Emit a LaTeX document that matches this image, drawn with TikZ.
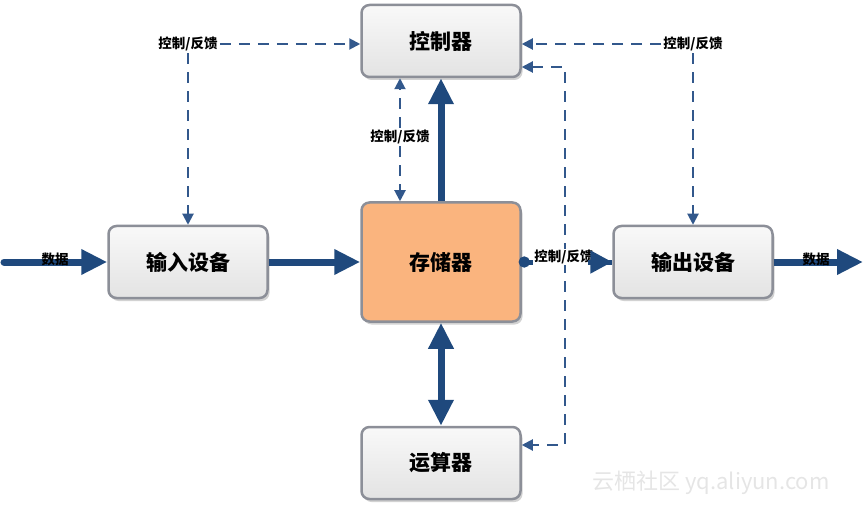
\documentclass[tikz,border=0pt]{standalone}
\usepackage{fontspec}
\newfontfamily\cjk{Noto Sans CJK SC}
\usetikzlibrary{arrows.meta, shadows}
\definecolor{flowblue}{RGB}{31,73,125}
\definecolor{dashblue}{RGB}{50,88,140}
\definecolor{boxgray}{RGB}{140,143,152}
\definecolor{memorange}{RGB}{250,180,126}
\tikzset{
  unitnode/.style={draw=boxgray, line width=2.5pt, rounded corners=8pt,
    top color=gray!5, bottom color=gray!22, minimum width=159pt, minimum height=72pt,
    align=center, font=\cjk\bfseries\fontsize{21}{24}\selectfont,
    drop shadow={shadow xshift=2pt, shadow yshift=-3pt, fill=gray!70}},
  memnode/.style={unitnode, top color=memorange, bottom color=memorange, minimum height=119pt},
  flowlabel/.style={font=\cjk\bfseries\fontsize{13.5}{15}\selectfont, inner sep=2pt},
  dataflow/.style={draw=flowblue, line width=7pt, -{Triangle[length=26pt,width=24pt]}},
  ctrlflow/.style={draw=dashblue, line width=2pt, dash pattern=on 11pt off 8pt,
    -{Triangle[length=11pt,width=11pt]}}
}

\begin{document}
\begin{tikzpicture}[x=1pt, y=1pt]
  \useasboundingbox (0,0) rectangle (864,504);
  \node[unitnode] (ctrl) at (441,463) {控制器};
  \node[memnode]  (mem)  at (441,242) {存储器};
  \node[unitnode] (in)   at (188,242) {输入设备};
  \node[unitnode] (out)  at (693,242) {输出设备};
  \node[unitnode] (alu)  at (441,41)  {运算器};
  % control / feedback labels
  \node[flowlabel] (lblL) at (188,460) {控制/反馈};
  \node[flowlabel] (lblR) at (693,460) {控制/反馈};
  \node[flowlabel] (lblM) at (400,367) {控制/反馈};
  \coordinate (loopTop) at (565,437);
  \coordinate (loopBot) at (565,59);
  \coordinate (dataIn)  at (4,242);
  \coordinate (dataOut) at (863,242);
  % dashed control lines
  \draw[ctrlflow] (lblL) -- (lblL -| ctrl.west);
  \draw[ctrlflow] (lblL) -- (in);
  \draw[ctrlflow] (lblR) -- (lblR -| ctrl.east);
  \draw[ctrlflow] (lblR) -- (out);
  \draw[ctrlflow] (lblM) -- (lblM |- ctrl.south);
  \draw[ctrlflow] (lblM) -- (lblM |- mem.north);
  \draw[ctrlflow, {Triangle[length=11pt,width=11pt]}-{Triangle[length=11pt,width=11pt]}]
    (ctrl.east |- loopTop) -- (loopTop) -- (loopBot) -- (alu.east |- loopBot);
  % data lines
  \draw[dataflow, line cap=round] (dataIn) -- (in);
  \draw[dataflow] (in) -- (mem);
  \draw[dataflow] (mem) -- (ctrl);
  \draw[dataflow, {Triangle[length=26pt,width=24pt]}-{Triangle[length=26pt,width=24pt]}] (mem) -- (alu);
  \draw[dataflow] (out) -- (dataOut);
  \draw[dataflow, line width=5pt, {Circle[length=11pt]}-] ([xshift=-3pt]mem.east) -- (out);
  \node[flowlabel, fill=white, inner sep=1pt] (lblMO) at (564,247) {控制/反馈};
  \draw[dataflow, line width=5pt, -{Triangle[length=22pt,width=22pt]}] ([xshift=-24pt]out.west) -- (out.west);
  \node[flowlabel] (lblIn)  at (55,245)  {数据};
  \node[flowlabel] (lblOut) at (816,245) {数据};
  \node[font=\cjk\fontsize{22}{25}\selectfont, text=gray!20] (mark) at (711,21) {云栖社区 yq.aliyun.com};
\end{tikzpicture}
\end{document}
